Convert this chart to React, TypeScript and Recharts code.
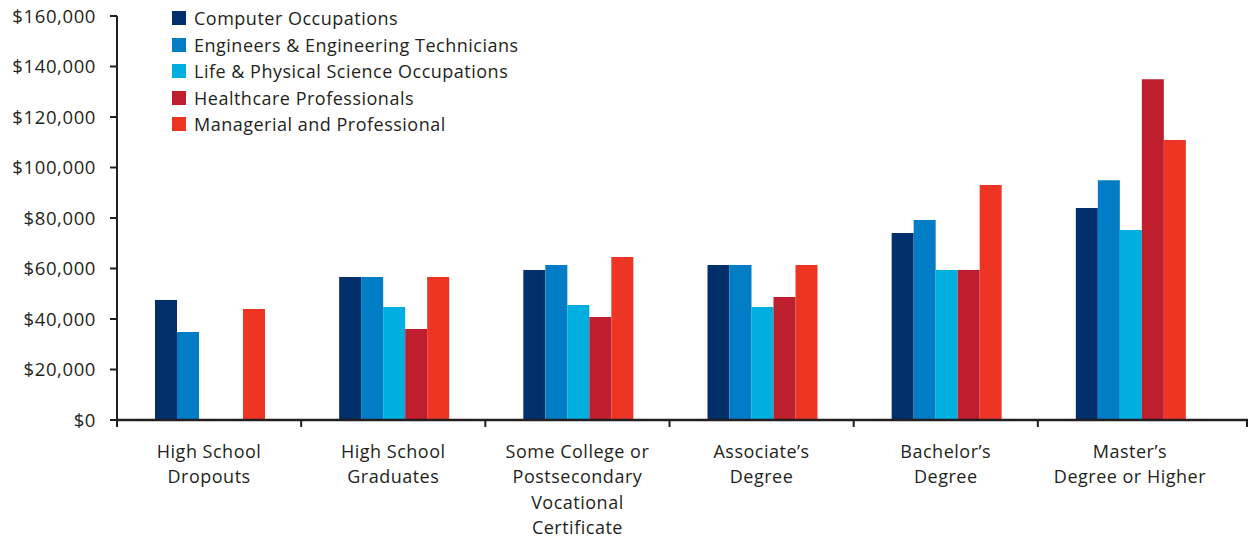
import { BarChart, Bar, XAxis, YAxis, Legend } from 'recharts'

const categories = [
  'High School\nDropouts',
  'High School\nGraduates',
  'Some College or\nPostsecondary\nVocational\nCertificate',
  'Associate’s\nDegree',
  'Bachelor’s\nDegree',
  'Master’s\nDegree or Higher',
]

const computer = [47500, 56600, 59400, 61400, 74100, 84000]
const engineers = [34900, 56600, 61400, 61400, 79200, 95000]
const lifeScience = [null, 44800, 45500, 44800, 59400, 75200]
const healthcare = [null, 36000, 40800, 48700, 59400, 135000]
const managerial = [44000, 56600, 64600, 61400, 93100, 110900]

const yTicks = [0, 20000, 40000, 60000, 80000, 100000, 120000, 140000, 160000]

const series = [
  { key: 'computer', name: 'Computer Occupations', color: '#002F6C' },
  { key: 'engineers', name: 'Engineers & Engineering Technicians', color: '#007DC5' },
  { key: 'life', name: 'Life & Physical Science Occupations', color: '#00AEDF' },
  { key: 'health', name: 'Healthcare Professionals', color: '#BE1E2D' },
  { key: 'managerial', name: 'Managerial and Professional', color: '#EE3524' },
]

const data = categories.map((c, i) => ({
  name: c,
  computer: computer[i],
  engineers: engineers[i],
  life: lifeScience[i],
  health: healthcare[i],
  managerial: managerial[i],
}))

const FONT = '"Open Sans", Lato, sans-serif'
const INK = '#231F20'
const PAD_RIGHT = 26

function XTick(props: any) {
  const { x, y, payload, index } = props
  const half = payload.offset ?? 92
  const lines = String(payload.value).split('\n')
  return (
    <g>
      <line x1={x - half} x2={x - half} y1={y} y2={y + 7} stroke={INK} strokeWidth={2} />
      {index === categories.length - 1 && (
        <line x1={x + half + PAD_RIGHT - 1} x2={x + half + PAD_RIGHT - 1} y1={y} y2={y + 7} stroke={INK} strokeWidth={2} />
      )}
      <text x={x} y={y + 38} textAnchor="middle" fill={INK} fontSize={18} letterSpacing={0.5} fontFamily={FONT}>
        {lines.map((l, i) => (
          <tspan key={i} x={x} dy={i === 0 ? 0 : 25.3}>{l}</tspan>
        ))}
      </text>
    </g>
  )
}

function LegendBox() {
  return (
    <div style={{ fontFamily: FONT, fontSize: 18, letterSpacing: 0.5, color: INK }}>
      {series.map(s => (
        <div key={s.key} style={{ display: 'flex', alignItems: 'center', height: 26.5 }}>
          <span style={{ width: 14, height: 14, background: s.color, marginRight: 8, display: 'inline-block' }} />
          <span>{s.name}</span>
        </div>
      ))}
    </div>
  )
}

export default function App() {
  return (
    <div style={{ position: 'absolute', left: 0, top: 0, background: '#fff' }}>
      <BarChart
        width={1250}
        height={540}
        data={data}
        margin={{ top: 16, right: 2, bottom: 0, left: 0 }}
        barGap={0}
        barCategoryGap={38}
      >
        <XAxis
          dataKey="name"
          interval={0}
          height={120}
          tickSize={0}
          tickMargin={0}
          tickLine={false}
          padding={{ left: 0, right: PAD_RIGHT }}
          axisLine={{ stroke: INK, strokeWidth: 2.5 }}
          tick={<XTick />}
        />
        <YAxis
          width={117}
          domain={[0, 160000]}
          ticks={yTicks}
          interval={0}
          tickSize={7}
          tickMargin={14}
          axisLine={{ stroke: INK, strokeWidth: 2 }}
          tickLine={{ stroke: INK, strokeWidth: 2 }}
          tick={{ fill: INK, fontSize: 18.5, letterSpacing: 0.6, fontFamily: FONT }}
          tickFormatter={(v: number) => '$' + v.toLocaleString('en-US')}
        />
        <Legend
          layout="vertical"
          align="center"
          verticalAlign="middle"
          content={<LegendBox />}
          wrapperStyle={{ top: 5, left: 172, width: 440 }}
        />
        {series.map(s => (
          <Bar key={s.key} dataKey={s.key} name={s.name} fill={s.color} isAnimationActive={false} />
        ))}
      </BarChart>
    </div>
  )
}
